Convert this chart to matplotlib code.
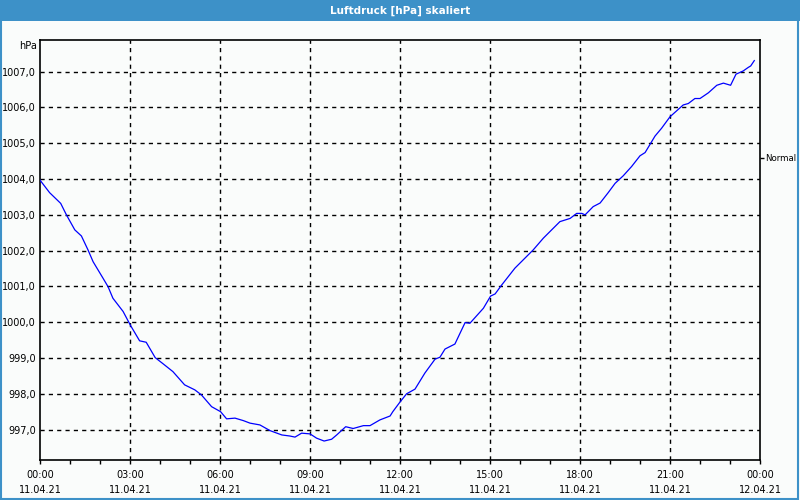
import matplotlib
matplotlib.use("Agg")
import matplotlib.pyplot as plt
from matplotlib.patches import Rectangle
from matplotlib.ticker import MultipleLocator

hours = [0.0, 0.32, 0.69, 0.88, 1.16, 1.38, 1.6, 1.77, 2.1, 2.27, 2.43, 2.77, 3.01, 3.32, 3.54,
         3.84, 4.1, 4.43, 4.82, 5.16, 5.38, 5.72, 6.02, 6.22, 6.5, 6.78, 7.0, 7.33, 7.67, 8.06,
         8.33, 8.5, 8.72, 9.0, 9.22, 9.47, 9.72, 9.89, 10.19, 10.44, 10.78, 11.0, 11.33, 11.67,
         11.76, 12.0, 12.22, 12.5, 12.83, 13.17, 13.33, 13.5, 13.83, 14.17, 14.33, 14.78, 15.02,
         15.17, 15.39, 15.83, 16.44, 16.78, 17.33, 17.67, 17.89, 18.06, 18.17, 18.44, 18.67,
         18.94, 19.17, 19.44, 19.72, 20.0, 20.17, 20.5, 20.72, 21.0, 21.44, 21.61, 21.83, 22.0,
         22.28, 22.56, 22.78, 23.02, 23.2, 23.44, 23.61, 23.69, 23.81]
pressure = [1003.97, 1003.62, 1003.32, 1003.0, 1002.58, 1002.41, 1002.02, 1001.69, 1001.23,
            1000.99, 1000.67, 1000.30, 999.92, 999.48, 999.44, 999.01, 998.84, 998.62, 998.25,
            998.11, 997.97, 997.64, 997.50, 997.30, 997.32, 997.25, 997.18, 997.13, 996.97,
            996.85, 996.82, 996.79, 996.90, 996.88, 996.76, 996.68, 996.73, 996.85, 997.08,
            997.03, 997.11, 997.11, 997.27, 997.38, 997.50, 997.77, 998.0, 998.13, 998.58,
            998.97, 999.02, 999.25, 999.39, 999.99, 999.97, 1000.39, 1000.73, 1000.79, 1001.04,
            1001.51, 1002.02, 1002.35, 1002.81, 1002.90, 1003.04, 1003.04, 1003.0, 1003.23,
            1003.33, 1003.62, 1003.88, 1004.09, 1004.35, 1004.65, 1004.74, 1005.20, 1005.42,
            1005.74, 1006.07, 1006.11, 1006.25, 1006.25, 1006.41, 1006.62, 1006.68, 1006.62,
            1006.93, 1007.02, 1007.12, 1007.16, 1007.31]

y_ticks = [997, 998, 999, 1000, 1001, 1002, 1003, 1004, 1005, 1006, 1007]
x_ticks = [0, 3, 6, 9, 12, 15, 18, 21, 24]
x_labels = ["00:00\n11.04.21", "03:00\n11.04.21", "06:00\n11.04.21", "09:00\n11.04.21",
            "12:00\n11.04.21", "15:00\n11.04.21", "18:00\n11.04.21", "21:00\n11.04.21",
            "00:00\n12.04.21"]
title = "Luftdruck [hPa] skaliert"
normal_value = 1004.6

bg = "#FAFCFB"
blue = "#3D91C8"

fig = plt.figure(figsize=(8, 5), dpi=100, facecolor=bg)
fig.patches.append(Rectangle((0, 500 - 20.5), 800, 20.5, transform=None, facecolor=blue,
                             edgecolor="none", zorder=-2))
fig.patches.append(Rectangle((0.5, 1.5), 797.5, 480, transform=None, facecolor="none",
                             edgecolor=blue, linewidth=1.5, zorder=-2))
fig.text(0.5, 1 - 10.5 / 500, title, color="white", fontsize=7.5, fontweight="bold",
         ha="center", va="center")

ax = fig.add_axes([40 / 800, 40 / 500, 720 / 800, 420 / 500])
ax.set_facecolor(bg)
ax.plot(hours, pressure, color="#0000FF", linewidth=0.9, zorder=3)
ax.set_xlim(0, 24)
ax.set_ylim(996.15, 1007.885)

for s in ax.spines.values():
    s.set_color("black")
    s.set_linewidth(1.2)

ax.set_yticks(y_ticks)
ax.set_yticklabels([f"{v:.1f}".replace(".", ",") for v in y_ticks], fontsize=7)
ax.tick_params(axis="y", length=0, pad=3)
ax.set_xticks(x_ticks)
ax.set_xticklabels(x_labels, fontsize=7, linespacing=1.7)
ax.xaxis.set_minor_locator(MultipleLocator(1))
ax.tick_params(axis="x", which="both", length=3, width=1, direction="out", pad=4)

dash = dict(color="black", linewidth=1, linestyle=(0, (3, 3)), zorder=1)
for v in y_ticks:
    ax.axhline(v, **dash)
for h in x_ticks[1:-1]:
    ax.axvline(h, **dash)

ax.text(-0.1, 1007.72, "hPa", fontsize=7, ha="right", va="center", transform=ax.transData,
        clip_on=False)

ax2 = ax.twinx()
ax2.set_ylim(ax.get_ylim())
ax2.set_yticks([normal_value])
ax2.set_yticklabels(["Normal"], fontsize=6.2)
ax2.tick_params(axis="y", length=3, width=1, pad=1)
for s in ax2.spines.values():
    s.set_visible(False)

fig.savefig("out.png", dpi=100, facecolor=bg)
